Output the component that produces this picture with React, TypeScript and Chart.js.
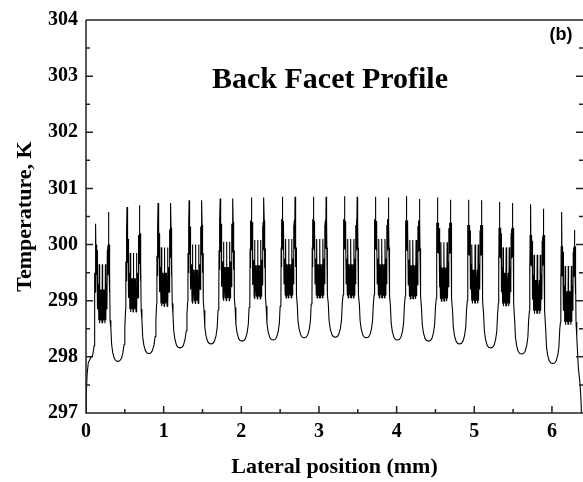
import React, { useEffect, useRef } from "react";
import { Chart, registerables } from "chart.js";

Chart.register(...registerables);

// ---- tick labels ----
const xTickValues = [0, 1, 2, 3, 4, 5, 6];
const xMinorTickValues = [0.5, 1.5, 2.5, 3.5, 4.5, 5.5];
const yTickValues = [297, 298, 299, 300, 301, 302, 303, 304];
const yMinorTickValues = [297.5, 298.5, 299.5, 300.5, 301.5, 302.5, 303.5];

// ---- per-emitter values (mm, K) ----
const groupCentres = [0.21, 0.61, 1.01, 1.41, 1.81, 2.21, 2.61, 3.01, 3.41, 3.81, 4.21, 4.61, 5.01, 5.41, 5.81, 6.21];
const leftPeaks = [300.37, 300.67, 300.74, 300.79, 300.82, 300.84, 300.85, 300.85, 300.86, 300.85, 300.86, 300.84, 300.8, 300.76, 300.72, 300.58];
const rightPeaks = [300.58, 300.7, 300.74, 300.79, 300.82, 300.84, 300.85, 300.85, 300.85, 300.84, 300.81, 300.8, 300.79, 300.74, 300.64, 300.26];
const innerShift = [-0.45, -0.25, -0.15, -0.1, -0.05, -0.02, 0, 0, 0, 0, -0.02, -0.06, -0.1, -0.15, -0.28, -0.48];
const troughPositions = [0.41, 0.81, 1.21, 1.61, 2.01, 2.41, 2.81, 3.21, 3.61, 4.01, 4.41, 4.81, 5.21, 5.61, 6.01];
const troughTemps = [297.92, 298.06, 298.16, 298.23, 298.28, 298.3, 298.34, 298.35, 298.34, 298.3, 298.28, 298.23, 298.16, 298.05, 297.88];

// shape of one emitter (half, offset from centre in mm, temperature of a central emitter)
const TALL = 300.85;
const halfShapeDx = [-0.1, -0.097, -0.094, -0.091, -0.088, -0.085, -0.082, -0.079, -0.076, -0.073, -0.07, -0.067, -0.064, -0.06, -0.052, -0.045, -0.04, -0.034, -0.026, -0.018, -0.01, -0.004];
const halfShapeT = [299.1, 299.95, 299.6, 300.45, 299.92, 300.45, TALL, 299.92, 300.45, 299.92, 300.42, 299.9, 300.35, 299.3, 299.75, 299.1, 300.1, 299.05, 299.65, 299.1, 299.65, 299.05];
const centreT = 300.1;

// shape of the trough between emitters (offset from trough centre, rise above trough)
const troughShapeDx = [-0.09, -0.08, -0.065, -0.045, -0.025, 0, 0.025, 0.045, 0.065, 0.08, 0.09];
const troughShapeRise = [0.6, 0.3, 0.15, 0.05, 0.01, 0, 0.01, 0.05, 0.15, 0.3, 0.6];

// facet edges
const leftEdgeX = [0, 0.004, 0.015, 0.03, 0.06, 0.085, 0.1, 0.105];
const leftEdgeT = [297.0, 297.35, 297.7, 297.9, 297.98, 298.02, 298.15, 298.2];
const rightEdgeX = [6.32, 6.34, 6.36, 6.372, 6.38];
const rightEdgeT = [298.35, 297.8, 297.55, 297.3, 297.0];

function buildProfile() {
  const pts: { x: number; y: number }[] = [];
  leftEdgeX.forEach((x, i) => pts.push({ x, y: leftEdgeT[i] }));
  groupCentres.forEach((c, k) => {
    const shapeT = (t: number, left: boolean) =>
      t === TALL ? (left ? leftPeaks[k] : rightPeaks[k]) : t + innerShift[k];
    halfShapeDx.forEach((dx, i) => pts.push({ x: c + dx, y: shapeT(halfShapeT[i], true) }));
    pts.push({ x: c, y: centreT + innerShift[k] });
    for (let i = halfShapeDx.length - 1; i >= 0; i--) {
      pts.push({ x: c - halfShapeDx[i], y: shapeT(halfShapeT[i], false) });
    }
    if (k < troughPositions.length) {
      troughShapeDx.forEach((dx, i) =>
        pts.push({ x: troughPositions[k] + dx, y: troughTemps[k] + troughShapeRise[i] })
      );
    }
  });
  rightEdgeX.forEach((x, i) => pts.push({ x, y: rightEdgeT[i] }));
  return pts;
}

const SERIF = "'Liberation Serif', 'Times New Roman', serif";

const framePlugin = {
  id: "frame",
  afterDraw(chart: any) {
    const { ctx, chartArea } = chart;
    const xs = chart.scales.x;
    const ys = chart.scales.y;
    const { left, right, top, bottom } = chartArea;
    ctx.save();
    ctx.strokeStyle = "#222";
    ctx.lineWidth = 1.5;
    ctx.beginPath();
    ctx.moveTo(left, top);
    ctx.lineTo(right, top);
    ctx.moveTo(left, top);
    ctx.lineTo(left, bottom);
    ctx.lineTo(right, bottom);
    const major = 7;
    const minor = 4;
    xTickValues.forEach((v) => {
      const p = xs.getPixelForValue(v);
      ctx.moveTo(p, bottom);
      ctx.lineTo(p, bottom - major);
    });
    xMinorTickValues.forEach((v) => {
      const p = xs.getPixelForValue(v);
      ctx.moveTo(p, bottom);
      ctx.lineTo(p, bottom - minor);
    });
    yTickValues.forEach((v) => {
      const p = ys.getPixelForValue(v);
      ctx.moveTo(left, p);
      ctx.lineTo(left + major, p);
      ctx.moveTo(right, p);
      ctx.lineTo(right - major, p);
    });
    yMinorTickValues.forEach((v) => {
      const p = ys.getPixelForValue(v);
      ctx.moveTo(left, p);
      ctx.lineTo(left + minor, p);
      ctx.moveTo(right, p);
      ctx.lineTo(right - minor, p);
    });
    ctx.stroke();

    ctx.fillStyle = "#000";
    ctx.font = `bold 30px ${SERIF}`;
    ctx.textAlign = "center";
    ctx.textBaseline = "alphabetic";
    ctx.fillText("Back Facet Profile", 330, 88);
    ctx.font = "bold 18px 'Liberation Sans', Arial, sans-serif";
    ctx.fillText("(b)", 561, 40);
    ctx.restore();
  },
};

export default function App() {
  const ref = useRef<HTMLCanvasElement | null>(null);
  useEffect(() => {
    if (!ref.current) return;
    const tickFont = { family: SERIF, weight: "bold" as const, size: 20 };
    const titleFont = { family: SERIF, weight: "bold" as const, size: 22 };
    const chart = new Chart(ref.current, {
      type: "line",
      data: {
        datasets: [
          {
            data: buildProfile(),
            borderColor: "#000",
            borderWidth: 1.1,
            borderJoinStyle: "bevel",
            pointRadius: 0,
            tension: 0,
            fill: false,
          },
        ],
      },
      options: {
        animation: false,
        responsive: false,
        devicePixelRatio: 1,
        layout: { padding: { top: 16, right: 0, left: 0, bottom: 0 } },
        plugins: { legend: { display: false }, tooltip: { enabled: false }, title: { display: false } },
        scales: {
          x: {
            type: "linear",
            min: 0,
            max: 6.4,
            afterBuildTicks: (s: any) => {
              s.ticks = xTickValues.map((v) => ({ value: v }));
            },
            afterFit: (s: any) => {
              s.height = 69;
            },
            grid: { display: false, drawTicks: false },
            border: { display: false },
            ticks: { font: tickFont, color: "#000", padding: 7, maxRotation: 0, autoSkip: false, callback: (v: any) => String(v) },
            title: { display: true, text: "Lateral position (mm)", font: titleFont, color: "#000", padding: { top: 0, bottom: 1 } },
          },
          y: {
            type: "linear",
            min: 297,
            max: 304,
            afterBuildTicks: (s: any) => {
              s.ticks = yTickValues.map((v) => ({ value: v }));
            },
            afterFit: (s: any) => {
              s.width = 86;
            },
            grid: { display: false, drawTicks: false },
            border: { display: false },
            ticks: { font: tickFont, color: "#000", padding: 8, autoSkip: false, callback: (v: any) => String(v) },
            title: { display: true, text: "Temperature, K", font: titleFont, color: "#000", padding: { top: 12, bottom: 0 } },
          },
        },
      },
      plugins: [framePlugin],
    });
    return () => chart.destroy();
  }, []);
  return (
    <div style={{ position: "absolute", left: 0, top: 0, width: 583, height: 482, background: "#fff" }}>
      <canvas ref={ref} width={583} height={482} style={{ display: "block" }} />
    </div>
  );
}
